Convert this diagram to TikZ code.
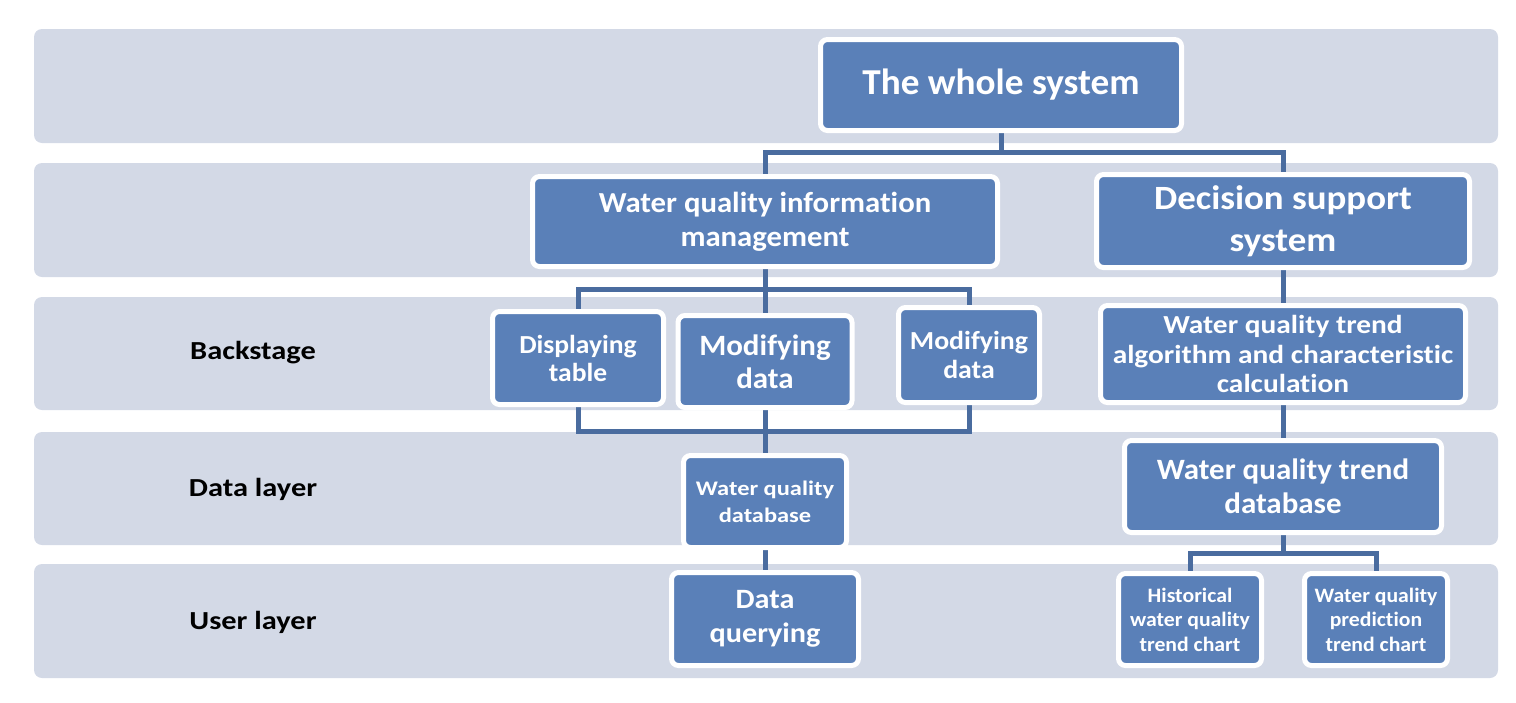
\documentclass[tikz,border=0pt]{standalone}
\usepackage{fontspec}
\setmainfont{Carlito}[Ligatures=NoCommon]
\newcommand\txf[3]{\bfseries\addfontfeature{FakeStretch=#1}\fontsize{#2}{#3}\selectfont}
\pgfdeclarelayer{bands}
\pgfdeclarelayer{lines}
\pgfsetlayers{bands,lines,main}
\definecolor{bandc}{HTML}{D3D9E6}
\definecolor{boxc}{HTML}{5A80B8}
\definecolor{linec}{HTML}{4A6C9F}
\tikzset{
  band/.style={fill=bandc, rounded corners=8pt},
  box/.style={draw=white, line width=5pt, fill=boxc, rounded corners=7pt,
    text=white, align=center, inner sep=2pt},
  conn/.style={draw=linec, line width=5pt},
  lab/.style={text=black, font=\txf{1.17}{26}{30}}
}
\begin{document}
\begin{tikzpicture}[x=1pt,y=-1pt]
\useasboundingbox (0,0) rectangle (1516,702);
% nodes
\node[box, minimum width=361pt, minimum height=91pt, font=\txf{1.02}{36.5}{42}] (whole) at (1001,85) {The whole system};
\node[box, minimum width=465pt, minimum height=90pt, font=\txf{1.06}{29}{34}] (wqim) at (765,221.5) {Water quality information\\management};
\node[box, minimum width=373pt, minimum height=93pt, font=\txf{1.085}{34}{42}] (dss) at (1283,221) {Decision support\\system};
\node[box, minimum width=171pt, minimum height=93pt, font=\txf{1.06}{26}{28}] (disp) at (578,358) {Displaying\\table};
\node[box, minimum width=174pt, minimum height=92pt, font=\txf{1.05}{29.5}{33}] (mod1) at (765,361.5) {Modifying\\data};
\node[box, minimum width=141pt, minimum height=95pt, font=\txf{1.07}{26}{29}] (mod2) at (969,355) {Modifying\\data};
\node[box, minimum width=365pt, minimum height=97pt, font=\txf{1.13}{26}{29.5}] (algo) at (1283,354) {Water quality trend\\algorithm and characteristic\\calculation};
\node[box, minimum width=163pt, minimum height=92pt, font=\txf{1.18}{20.7}{27}] (wqdb) at (765,501.5) {Water quality\\database};
\node[box, minimum width=317pt, minimum height=92pt, font=\txf{1.05}{29.5}{34}] (tdb) at (1283,486.5) {Water quality trend\\database};
\node[box, minimum width=187pt, minimum height=93pt, font=\txf{1.08}{28}{34}] (dq) at (765,619) {Data\\querying};
\node[box, minimum width=143pt, minimum height=92pt, font=\txf{1.06}{20.5}{24.5}] (hist) at (1190,619.5) {Historical\\water quality\\trend chart};
\node[box, minimum width=143pt, minimum height=92pt, font=\txf{1.06}{20.5}{24.5}] (pred) at (1376,619.5) {Water quality\\prediction\\trend chart};
% labels
\node[lab] (l1) at (253,353) {Backstage};
\node[lab] (l2) at (253,489) {Data layer};
\node[lab] (l3) at (253,622) {User layer};
% junctions
\coordinate (j1) at (1001,152);
\coordinate (j2) at (765,289);
\coordinate (j3) at (765,431);
\coordinate (j4) at (1283,553);
\begin{pgfonlayer}{bands}
\fill[band] (34,29) rectangle (1498,143);
\fill[band] (34,163) rectangle (1498,277);
\fill[band] (34,297) rectangle (1498,410);
\fill[band] (34,432) rectangle (1498,545);
\fill[band] (34,564) rectangle (1498,678);
\end{pgfonlayer}
\begin{pgfonlayer}{lines}
\draw[conn] (whole.south) -- (j1);
\draw[conn] (wqim.north) |- (j1) -| (dss.north);
\draw[conn] (wqim.south) -- (mod1.north);
\draw[conn] (disp.north) |- (j2) -| (mod2.north);
\draw[conn] (disp.south) |- (j3) -| (mod2.south);
\draw[conn] (mod1.south) -- (wqdb.north);
\draw[conn] (wqdb.south) -- (dq.north);
\draw[conn] (dss.south) -- (algo.north);
\draw[conn] (algo.south) -- (tdb.north);
\draw[conn] (tdb.south) -- (j4);
\draw[conn] (hist.north) |- (j4) -| (pred.north);
\end{pgfonlayer}
\end{tikzpicture}
\end{document}
